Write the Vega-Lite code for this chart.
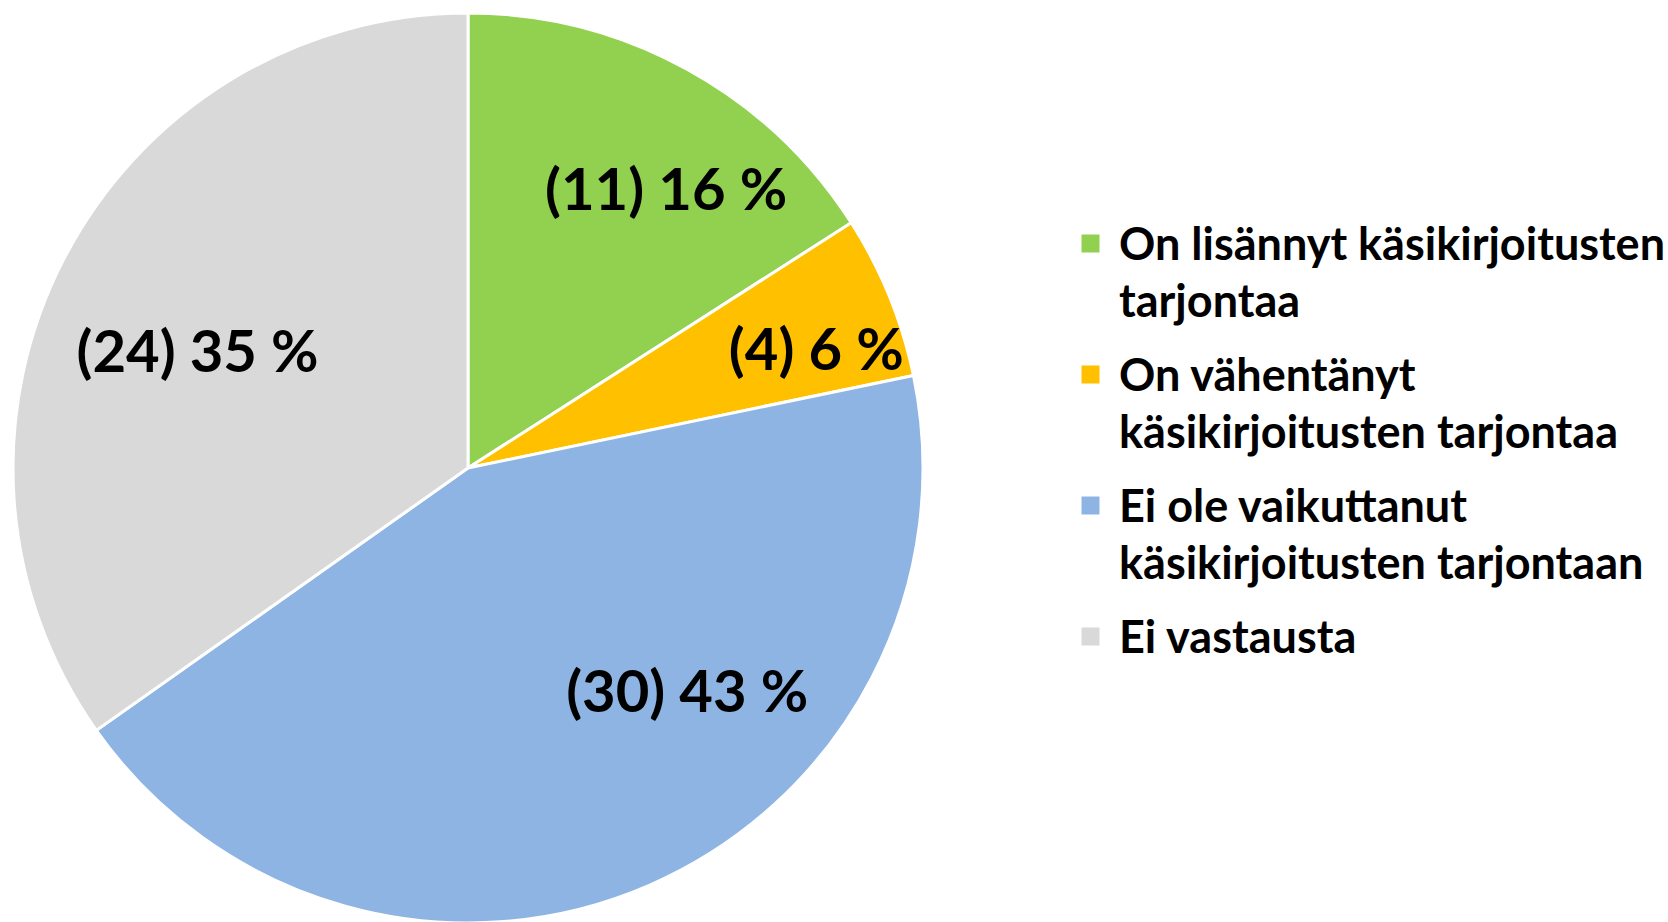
{
  "$schema": "https://vega.github.io/schema/vega-lite/v6.json",
  "width": 936,
  "height": 908,
  "autosize": {"type": "none"},
  "padding": {"left": 0, "top": 14, "right": 732, "bottom": 0},
  "background": "white",
  "config": {
    "view": {"stroke": null},
    "style": {"guide-label": {"lineHeight": 57, "dy": -20}}
  },
  "data": {
    "values": [
      {"idx": 1, "cat": "On lisännyt käsikirjoitusten tarjontaa", "n": 11, "label": "(11) 16 %"},
      {"idx": 2, "cat": "On vähentänyt käsikirjoitusten tarjontaa", "n": 4, "label": "(4) 6 %"},
      {"idx": 3, "cat": "Ei ole vaikuttanut käsikirjoitusten tarjontaan", "n": 30, "label": "(30) 43 %"},
      {"idx": 4, "cat": "Ei vastausta", "n": 24, "label": "(24) 35 %"}
    ]
  },
  "encoding": {
    "theta": {"field": "n", "type": "quantitative", "stack": true},
    "order": {"field": "idx", "type": "quantitative"}
  },
  "layer": [
    {
      "mark": {"type": "arc", "outerRadius": 455, "stroke": "white", "strokeWidth": 3},
      "encoding": {
        "color": {
          "field": "cat",
          "type": "nominal",
          "scale": {
            "domain": ["On lisännyt käsikirjoitusten tarjontaa", "On vähentänyt käsikirjoitusten tarjontaa", "Ei ole vaikuttanut käsikirjoitusten tarjontaan", "Ei vastausta"],
            "range": ["#92D050", "#FFC000", "#8EB4E3", "#D9D9D9"]
          },
          "legend": {
            "title": null,
            "orient": "none",
            "legendX": 1068,
            "legendY": 207,
            "symbolType": "square",
            "symbolSize": 324,
            "symbolStrokeWidth": 0,
            "labelFont": "Lato",
            "labelFontWeight": "bold",
            "labelFontSize": 45,
            "labelColor": "black",
            "labelLimit": 0,
            "labelOffset": 6,
            "labelBaseline": "top",
            "rowPadding": 26,
            "labelExpr": "datum.label == 'On lisännyt käsikirjoitusten tarjontaa' ? ['On lisännyt käsikirjoitusten', 'tarjontaa'] : datum.label == 'On vähentänyt käsikirjoitusten tarjontaa' ? ['On vähentänyt', 'käsikirjoitusten tarjontaa'] : datum.label == 'Ei ole vaikuttanut käsikirjoitusten tarjontaan' ? ['Ei ole vaikuttanut', 'käsikirjoitusten tarjontaan'] : datum.label"
          }
        }
      }
    },
    {
      "mark": {"type": "text", "radius": 342, "thetaOffset": 0.117, "dy": 4, "font": "Lato", "fontWeight": "bold", "fontSize": 58, "color": "black"},
      "encoding": {
        "detail": {"field": "cat", "type": "nominal"},
        "text": {"condition": {"test": "datum.idx === 1", "field": "label", "type": "nominal"}, "value": ""}
      }
    },
    {
      "mark": {"type": "text", "radius": 368, "thetaOffset": 0.058, "dy": 4, "font": "Lato", "fontWeight": "bold", "fontSize": 58, "color": "black"},
      "encoding": {
        "detail": {"field": "cat", "type": "nominal"},
        "text": {"condition": {"test": "datum.idx === 2", "field": "label", "type": "nominal"}, "value": ""}
      }
    },
    {
      "mark": {"type": "text", "radius": 314, "thetaOffset": -0.363, "dy": 2, "font": "Lato", "fontWeight": "bold", "fontSize": 58, "color": "black"},
      "encoding": {
        "detail": {"field": "cat", "type": "nominal"},
        "text": {"condition": {"test": "datum.idx === 3", "field": "label", "type": "nominal"}, "value": ""}
      }
    },
    {
      "mark": {"type": "text", "radius": 294, "thetaOffset": -0.075, "dy": 2, "font": "Lato", "fontWeight": "bold", "fontSize": 58, "color": "black"},
      "encoding": {
        "detail": {"field": "cat", "type": "nominal"},
        "text": {"condition": {"test": "datum.idx === 4", "field": "label", "type": "nominal"}, "value": ""}
      }
    }
  ]
}
